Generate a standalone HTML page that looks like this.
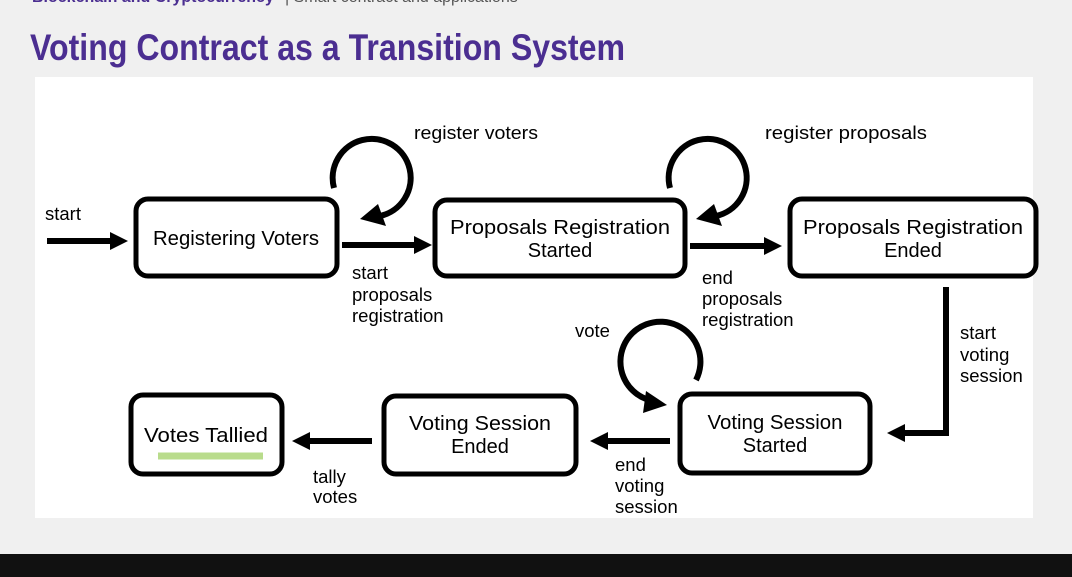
<!DOCTYPE html>
<html><head><meta charset="utf-8"><style>
html,body{margin:0;padding:0;background:#f0f0f0;}
svg{display:block;}
text{font-family:"Liberation Sans",sans-serif;}
</style></head><body>
<svg width="1072" height="577" viewBox="0 0 1072 577" xmlns="http://www.w3.org/2000/svg">
<rect x="0" y="0" width="1072" height="577" fill="#f0f0f0"/>
<text x="32" y="2" font-size="16" fill="#4b2e91" font-weight="bold">Blockchain and Cryptocurrency</text>
<text x="285" y="2" font-size="16" fill="#555">|  Smart contract and applications</text>
<text x="30" y="60" font-size="37" fill="#4b2e91" font-weight="bold" textLength="595" lengthAdjust="spacingAndGlyphs">Voting Contract as a Transition System</text>
<rect x="35" y="77" width="998" height="441" fill="#fff"/>
<rect x="0" y="554" width="1072" height="23" fill="#111"/>
<g fill="none" stroke="#000" stroke-width="5">
<rect x="136" y="199" width="201" height="77" rx="12"/>
<rect x="435" y="200" width="250" height="76" rx="12"/>
<rect x="790" y="199" width="246" height="77" rx="12"/>
<rect x="680" y="394" width="190" height="79" rx="12"/>
<rect x="384" y="396" width="192" height="78" rx="12"/>
<rect x="131" y="395" width="151" height="79" rx="12"/>
</g>
<line x1="158" y1="456" x2="263" y2="456" stroke="#b9dc8c" stroke-width="7"/>
<g stroke="#000" stroke-width="6" fill="none">
<line x1="47" y1="241" x2="112" y2="241"/>
<line x1="342" y1="245" x2="416" y2="245"/>
<line x1="690" y1="246" x2="766" y2="246"/>
<polyline points="946,287 946,433 903,433"/>
<line x1="670" y1="441" x2="606" y2="441"/>
<line x1="372" y1="441" x2="308" y2="441"/>
<path d="M334 188 A39 39 0 1 1 380 216"/>
<path d="M670 188 A39 39 0 1 1 716 216"/>
<path d="M696 380 A40 40 0 1 0 646 399"/>
</g>
<g fill="#000">
<polygon points="128,241 110,232 110,250"/>
<polygon points="432,245 414,236 414,254"/>
<polygon points="782,246 764,237 764,255"/>
<polygon points="887,433 905,424 905,442"/>
<polygon points="590,441 608,432 608,450"/>
<polygon points="292,441 310,432 310,450"/>
<polygon points="360,219 378,204 386,226"/>
<polygon points="696,219 714,204 722,226"/>
<polygon points="667,405 646,391 643,413"/>
</g>
<g font-size="20" fill="#000" text-anchor="middle">
<text x="236" y="245" textLength="166" lengthAdjust="spacingAndGlyphs">Registering Voters</text>
<text x="560" y="234" textLength="220" lengthAdjust="spacingAndGlyphs">Proposals Registration</text>
<text x="560" y="257">Started</text>
<text x="913" y="234" textLength="220" lengthAdjust="spacingAndGlyphs">Proposals Registration</text>
<text x="913" y="257">Ended</text>
<text x="775" y="429" textLength="135" lengthAdjust="spacingAndGlyphs">Voting Session</text>
<text x="775" y="452">Started</text>
<text x="480" y="430" textLength="142" lengthAdjust="spacingAndGlyphs">Voting Session</text>
<text x="480" y="453">Ended</text>
<text x="206" y="442" textLength="124" lengthAdjust="spacingAndGlyphs">Votes Tallied</text>
</g>
<g font-size="18.5" fill="#000">
<text x="45" y="220">start</text>
<text x="414" y="139" textLength="124" lengthAdjust="spacingAndGlyphs">register voters</text>
<text x="765" y="139" textLength="162" lengthAdjust="spacingAndGlyphs">register  proposals</text>
<text x="352" y="279">start</text>
<text x="352" y="301">proposals</text>
<text x="352" y="322">registration</text>
<text x="702" y="284">end</text>
<text x="702" y="305">proposals</text>
<text x="702" y="326">registration</text>
<text x="575" y="337">vote</text>
<text x="960" y="339">start</text>
<text x="960" y="361">voting</text>
<text x="960" y="382">session</text>
<text x="615" y="471">end</text>
<text x="615" y="492">voting</text>
<text x="615" y="513">session</text>
<text x="313" y="483">tally</text>
<text x="313" y="503">votes</text>
</g>
</svg>
</body></html>
